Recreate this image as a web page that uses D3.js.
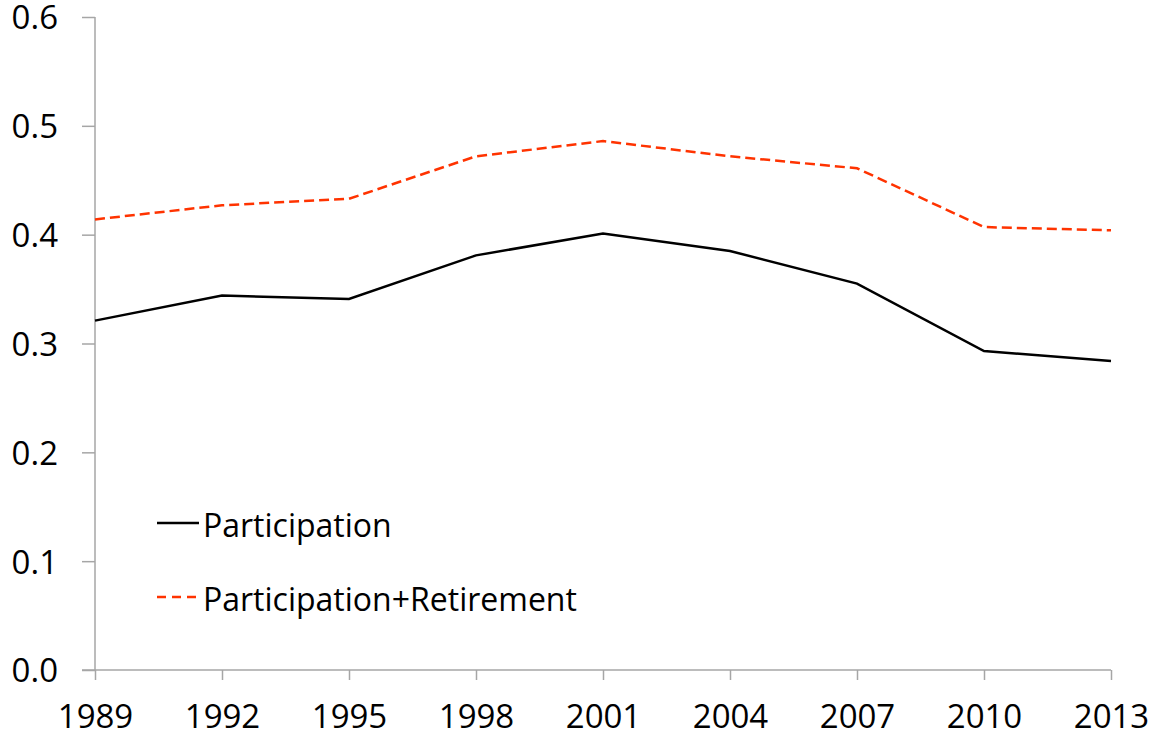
<!DOCTYPE html>
<html>
<head>
<meta charset="utf-8">
<script src="https://cdn.jsdelivr.net/npm/d3@7"></script>
<style>
  body { margin: 0; background: #fff; }
  text { font-family: "Open Sans", sans-serif; fill: #000; }
</style>
</head>
<body>
<div id="chart"></div>
<script>
// Data
var years = [1989, 1992, 1995, 1998, 2001, 2004, 2007, 2010, 2013];
var participation = [0.321, 0.344, 0.341, 0.381, 0.401, 0.385, 0.355, 0.293, 0.284];
var partRetirement = [0.414, 0.427, 0.433, 0.472, 0.486, 0.472, 0.461, 0.407, 0.404];
var yTickValues = [0, 0.1, 0.2, 0.3, 0.4, 0.5, 0.6];

var width = 1154;
var height = 738;

var svg = d3.select("#chart")
    .append("svg")
    .attr("width", width)
    .attr("height", height);

// Skala
var x = d3.scalePoint()
    .domain(years)
    .range([95, 1111]);

var y = d3.scaleLinear()
    .domain([0, 0.6])
    .range([670, 17]);

// sumbu y
var yAxis = d3.axisLeft(y)
    .tickValues(yTickValues)
    .tickFormat(d3.format(".1f"))
    .tickSize(13)
    .tickPadding(24);

var gy = svg.append("g")
    .attr("transform", "translate(95,0)")
    .call(yAxis);
gy.selectAll("path, line").attr("stroke", "#a6a6a6").attr("stroke-width", 1.5);
gy.select(".domain").attr("d", "M0," + y(0.6) + "V" + y(0));
gy.selectAll("text").style("font-size", "33px").attr("dy", "0.36em");

// sumbu x
var xAxis = d3.axisBottom(x)
    .tickSize(10)
    .tickPadding(25);

var gx = svg.append("g")
    .attr("transform", "translate(0,670)")
    .call(xAxis);
gx.selectAll("path, line").attr("stroke", "#a6a6a6").attr("stroke-width", 1.5);
gx.select(".domain").attr("d", "M82,0H" + x(2013));
gx.selectAll("text").style("font-size", "33px");

// garis
var line = d3.line()
    .x(function(d, i) { return x(years[i]); })
    .y(function(d) { return y(d); });

svg.append("path")
    .datum(participation)
    .attr("d", line)
    .attr("fill", "none")
    .attr("stroke", "#000")
    .attr("stroke-width", 2.5);

svg.append("path")
    .datum(partRetirement)
    .attr("d", line)
    .attr("fill", "none")
    .attr("stroke", "#ff3300")
    .attr("stroke-width", 2.5)
    .attr("stroke-dasharray", "10,5");

// legenda
var legend = [
    { name: "Participation", color: "#000", dash: null, y: 523 },
    { name: "Participation+Retirement", color: "#ff3300", dash: "9,6", y: 597 }
];

legend.forEach(function(d) {
    svg.append("line")
        .attr("x1", 157).attr("x2", 199)
        .attr("y1", d.y).attr("y2", d.y)
        .attr("stroke", d.color)
        .attr("stroke-width", 2.5)
        .attr("stroke-dasharray", d.dash);
    svg.append("text")
        .attr("x", 203)
        .attr("y", d.y + 14)
        .style("font-size", "32px")
        .text(d.name);
});
</script>
</body>
</html>
